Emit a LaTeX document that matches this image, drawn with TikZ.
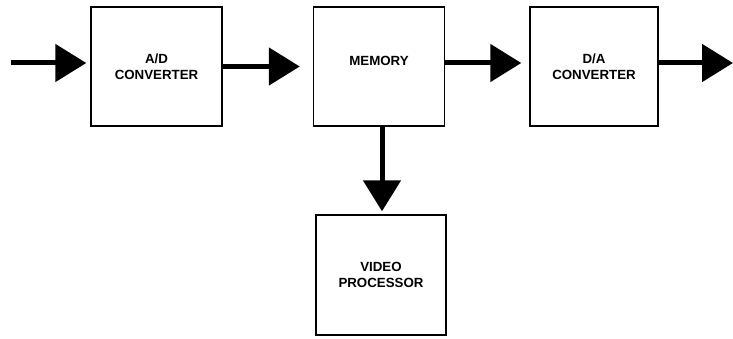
\documentclass[tikz,border=0pt]{standalone}
\usepackage{fontspec}
\setmainfont{Liberation Sans}
\usetikzlibrary{arrows.meta}
\begin{document}
\begin{tikzpicture}[x=1pt,y=-1pt,
  blk/.style={draw=black,line width=1.4pt,rectangle,minimum width=131pt,minimum height=119pt,
    align=center,inner sep=0pt,font=\fontsize{13.3}{16.5}\selectfont\bfseries},
  flow/.style={line width=5pt,-{Triangle[length=31pt,width=37pt]}}]
\useasboundingbox (0,0) rectangle (733,339);
\node[blk] (ad) at (156.5,66.5) {A/D\\CONVERTER};
\node[blk] (mem) at (379,66.5) {MEMORY\\[-6pt]};
\node[blk,minimum width=128pt] (da) at (594,66.5) {D/A\\CONVERTER};
\node[blk,minimum width=130pt,minimum height=120pt] (vp) at (381,275) {VIDEO\\PROCESSOR};
\coordinate (in) at (11,63);
\coordinate (out) at (733,63);
\draw[flow,shorten >=4pt] (in) -- (ad.west |- in);
\draw[flow,shorten >=13pt] (ad.east) -- (mem.west);
\draw[flow,shorten >=8pt] (mem.east |- out) -- (da.west |- out);
\draw[flow] (da.east |- out) -- (out);
\draw[flow,shorten >=3pt] (mem.south -| 382,0) -- (vp.north -| 382,0);
\end{tikzpicture}
\end{document}
